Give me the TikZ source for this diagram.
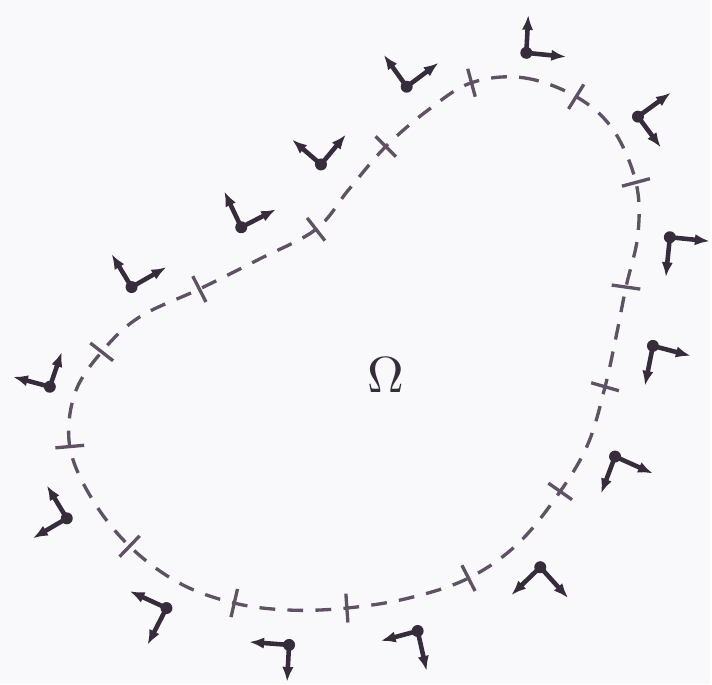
\documentclass[tikz,border=0pt]{standalone}
\usetikzlibrary{arrows.meta}
\definecolor{ink}{RGB}{55,44,60}
\definecolor{pencil}{RGB}{95,82,100}
\definecolor{paper}{RGB}{249,249,251}
\begin{document}
\begin{tikzpicture}[x=0.02cm, y=-0.02cm,
    boundary/.style={pencil, line width=1.9pt, dash pattern=on 9pt off 7pt},
    tickmark/.style={pencil, line width=1.9pt},
    origin/.style={circle, fill=ink, inner sep=0pt, minimum size=0.24cm},
    framearrow/.style={ink, line width=2.6pt, -{Latex[length=8.5pt, width=6.5pt]}}
  ]
    \fill[paper] (0,0) rectangle (712,686);

    % the domain boundary
    \draw[boundary] plot[smooth cycle, tension=0.6] coordinates {(473,83) (525,78) (578,97) (615,130) (638,183) (640,235) (628,288) (618,338) (607,388) (590,445) (562,493) (520,545) (470,580) (410,600) (348,610) (290,612) (235,605) (180,585) (130,548) (92,500) (70,448) (75,395) (102,353) (140,318) (200,290) (260,260) (317,230) (350,190) (387,147) (430,110)};
    \node[ink, scale=2.9] (omega) at (387,376) {$\Omega$};

    % element boundaries
    \foreach \x/\y/\a in {473/83/105, 578/97/58, 638/183/15, 628/288/-8, 607/388/-16, 562/493/-35, 470/580/-63, 348/610/-86, 235/605/77, 130/548/46, 70/448/5, 102/353/142, 200/290/117, 317/230/128, 387/147/135} {
      \draw[tickmark] ([shift={(\a:0.29cm)}]\x,\y) -- ([shift={(\a:-0.29cm)}]\x,\y);
    }

    % local frames
    \foreach \n/\ox/\oy/\ax/\ay/\bx/\by in {
        1/528/53/530/15/568/57, 2/640/117/673/93/663/148, 3/672/238/712/242/668/278,
        4/655/347/693/357/647/387, 5/617/458/655/475/603/495, 6/542/569/513/597/570/600,
        7/419/633/382/643/428/673, 8/290/647/250/644/288/684, 9/167/610/130/593/148/647,
        10/67/520/47/487/33/540, 11/50/388/62/353/13/378, 12/132/288/112/255/167/268,
        13/242/228/225/192/277/210, 14/322/165/293/140/347/135, 15/408/87/385/55/440/63} {
      \node[origin] (o\n) at (\ox,\oy) {};
      \coordinate (a\n) at (\ax,\ay);
      \coordinate (b\n) at (\bx,\by);
      \draw[framearrow] (o\n.center) -- (a\n);
      \draw[framearrow] (o\n.center) -- (b\n);
    }
\end{tikzpicture}
\end{document}
